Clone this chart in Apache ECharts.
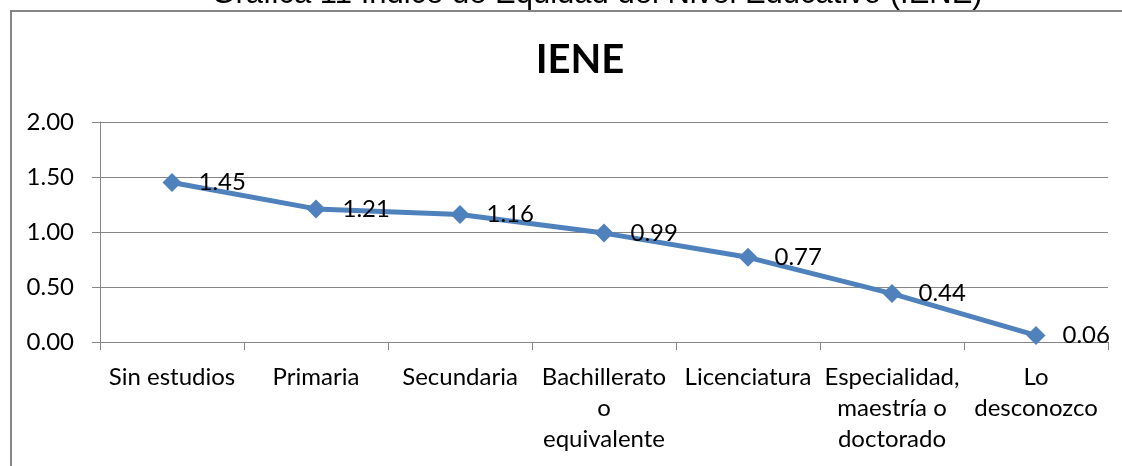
<!DOCTYPE html>
<html>
<head>
<meta charset="utf-8">
<script src="https://cdn.jsdelivr.net/npm/echarts@6/dist/echarts.min.js"></script>
<style>
  html, body { margin: 0; padding: 0; background: #fff; }
  #chart-container { width: 1122px; height: 466px; }
</style>
</head>
<body>
<div id="chart-container"></div>
<script>
// categories (education level) and IENE values
var categories = [
  'Sin estudios',
  'Primaria',
  'Secundaria',
  'Bachillerato\no\nequivalente',
  'Licenciatura',
  'Especialidad,\nmaestría o\ndoctorado',
  'Lo\ndesconozco'
];
var ieneValues = [1.45, 1.21, 1.16, 0.99, 0.77, 0.44, 0.06];
var yTicks = { min: 0, max: 2, interval: 0.5 };

var pageTitle = 'Gráfica 11 Índice de Equidad del Nivel Educativo (IENE)';
var chartTitle = 'IENE';

var dom = document.getElementById('chart-container');
var myChart = echarts.init(dom, null, { renderer: 'canvas' });

var font = 'Lato';
var gray = '#868686';

var option = {
  animation: false,
  title: {
    text: chartTitle,
    left: 575,
    top: 35,
    textAlign: 'center',
    textStyle: { fontFamily: font, fontWeight: 'bold', fontSize: 40, color: '#000' }
  },
  graphic: [
    {
      type: 'rect',
      shape: { x: 11, y: 11, width: 1200, height: 600 },
      style: { fill: 'none', stroke: gray, lineWidth: 2 },
      silent: true
    },
    {
      type: 'text',
      x: 597,
      y: -6,
      style: {
        text: pageTitle,
        fontFamily: 'Liberation Sans, Arial',
        fontSize: 31,
        fill: '#000',
        align: 'center',
        verticalAlign: 'middle'
      }
    }
  ],
  grid: { left: 100, right: 14, top: 122, bottom: 124, containLabel: false },
  xAxis: {
    type: 'category',
    data: categories,
    boundaryGap: true,
    axisLine: { lineStyle: { color: gray, width: 1 } },
    axisTick: { show: true, interval: 0, length: 8, lineStyle: { color: gray } },
    axisLabel: {
      interval: 0,
      margin: 20,
      fontFamily: font,
      fontSize: 24,
      lineHeight: 31,
      color: '#000'
    }
  },
  yAxis: {
    type: 'value',
    min: yTicks.min,
    max: yTicks.max,
    interval: yTicks.interval,
    axisLine: { show: true, lineStyle: { color: gray, width: 1 } },
    axisTick: { show: true, length: 8, lineStyle: { color: gray } },
    splitLine: { lineStyle: { color: gray, width: 1 } },
    axisLabel: {
      margin: 26,
      fontFamily: font,
      fontSize: 24,
      color: '#000',
      formatter: function (v) { return v.toFixed(2); }
    }
  },
  series: [
    {
      name: 'IENE',
      type: 'line',
      data: ieneValues,
      symbol: 'diamond',
      symbolSize: 19,
      lineStyle: { color: '#4F81BD', width: 5 },
      itemStyle: { color: '#4F81BD' },
      label: {
        show: true,
        position: 'right',
        distance: 17,
        fontFamily: font,
        fontSize: 24,
        color: '#000',
        formatter: function (p) { return p.value.toFixed(2); }
      }
    }
  ]
};

myChart.setOption(option);
window.addEventListener('resize', myChart.resize);
</script>
</body>
</html>
